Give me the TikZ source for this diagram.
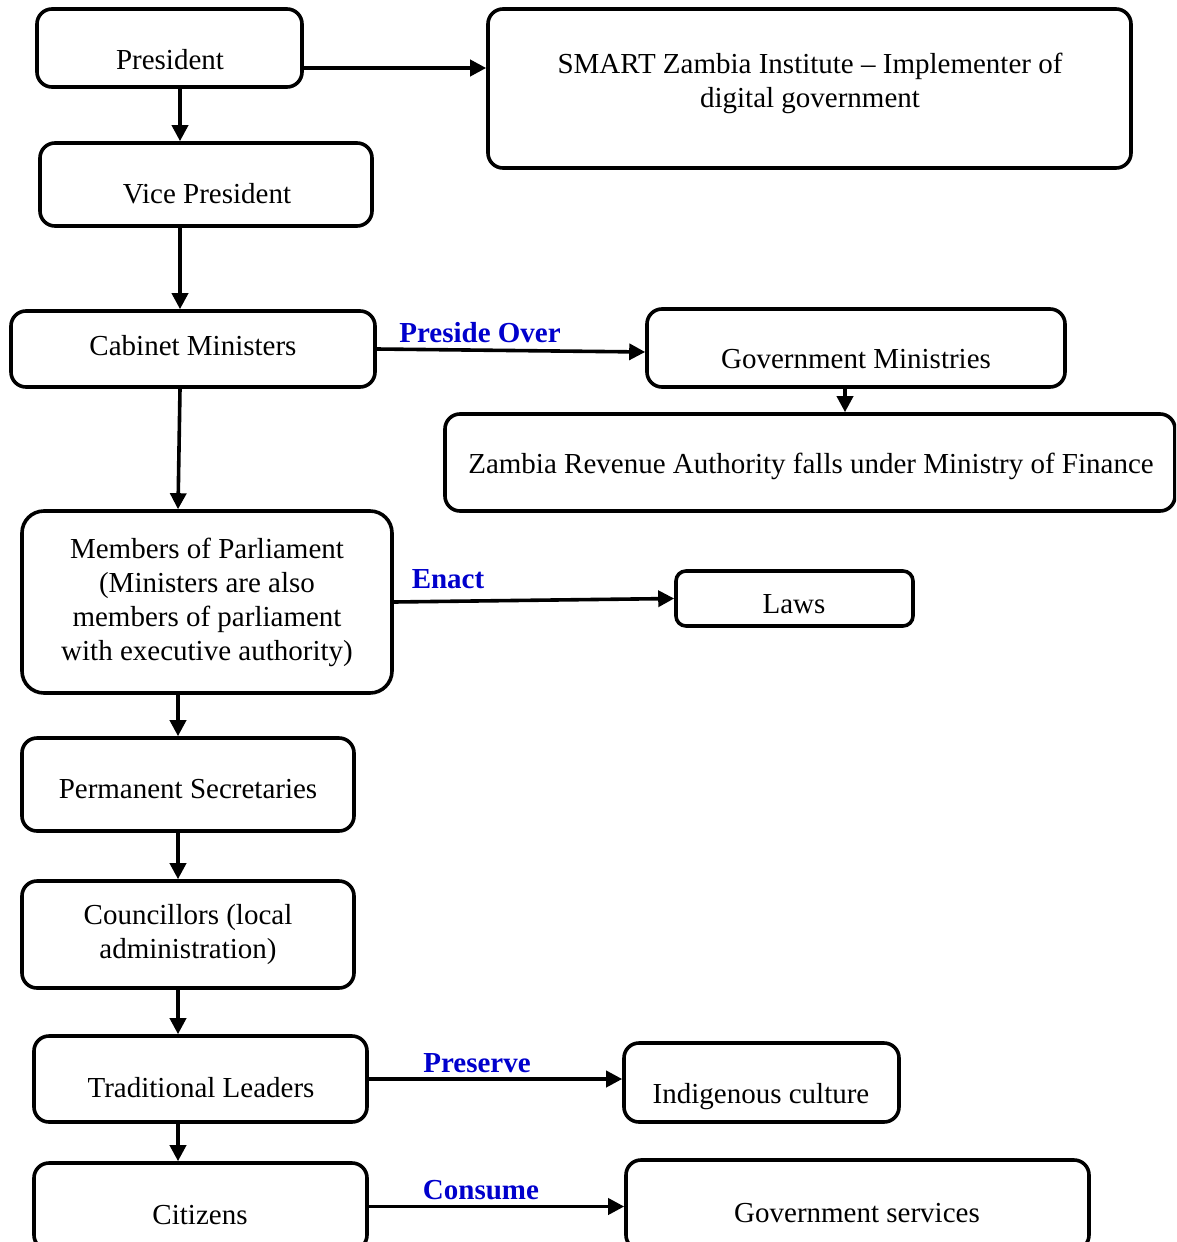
\documentclass[tikz,border=0pt]{standalone}
\usepackage{fontspec}
\setmainfont{Liberation Serif}
\usetikzlibrary{arrows.meta}
\definecolor{lblue}{RGB}{0,0,204}
\begin{document}
\begin{tikzpicture}[x=1pt,y=-1pt,
  box/.style={draw, line width=3.6pt, rounded corners=15pt, inner sep=0pt},
  txt/.style={font=\fontsize{29}{34}\selectfont, align=center, inner sep=0pt},
  lbl/.style={font=\fontsize{29}{34}\selectfont\bfseries, text=lblue, inner sep=0pt},
  arr/.style={line width=3.6pt, -{Triangle[length=16pt,width=16pt]}}]
\useasboundingbox (0,0) rectangle (1176,1242);
\clip (0,0) rectangle (1176,1242);

% columns and rows used by the connectors
\coordinate (colA) at (180,0);
\coordinate (colB) at (178,0);
\coordinate (colC) at (845,0);
\coordinate (rowA) at (0,68);

% boxes
\node[box, minimum width=265, minimum height=78]  (pres)   at (169.5,48)   {};
\node[box, minimum width=643, minimum height=159] (smart)  at (809.5,88.5) {};
\node[box, minimum width=332, minimum height=83]  (vice)   at (206,184.5)  {};
\node[box, minimum width=364, minimum height=76]  (cab)    at (193,349)    {};
\node[box, minimum width=418, minimum height=78]  (govmin) at (856,348)    {};
\node[box, minimum width=730, minimum height=97]  (zra)    at (810,462.5)  {};
\node[box, minimum width=370, minimum height=182, rounded corners=22pt] (mps) at (207,602) {};
\node[box, minimum width=237, minimum height=55, rounded corners=10pt]  (laws) at (794.5,598.5) {};
\node[box, minimum width=332, minimum height=93]  (perm)   at (188,784.5)  {};
\node[box, minimum width=332, minimum height=107] (coun)   at (188,934.5)  {};
\node[box, minimum width=333, minimum height=86]  (trad)   at (200.5,1079) {};
\node[box, minimum width=275, minimum height=79]  (indig)  at (761.5,1082.5) {};
\node[box, minimum width=333, minimum height=87]  (cit)    at (200.5,1206.5) {};
\node[box, minimum width=463, minimum height=90]  (gsv)    at (857.5,1205) {};

% box texts
\node[txt] (tpres)   at (170,59.5)   {President};
\node[txt] (tsmart)  at (810,83.5)   {SMART Zambia Institute \textendash{} Implementer of\\digital government};
\node[txt] (tvice)   at (207,193.5)  {Vice President};
\node[txt] (tcab)    at (193,345.5)  {Cabinet Ministers};
\node[txt] (tgovmin) at (856,359.5)  {Government Ministries};
\node[txt] (tzra)    at (811,466)    {Zambia Revenue Authority falls under Ministry of Finance};
\node[txt] (tmps)    at (207,602)    {Members of Parliament\\(Ministers are also\\members of parliament\\with executive authority)};
\node[txt] (tlaws)   at (794,604.5)  {Laws};
\node[txt] (tperm)   at (188,789.5)  {Permanent Secretaries};
\node[txt] (tcoun)   at (188,935)    {Councillors (local\\administration)};
\node[txt] (ttrad)   at (201,1087.5) {Traditional Leaders};
\node[txt] (tindig)  at (761,1097)   {Indigenous culture};
\node[txt] (tcit)    at (200,1215.5) {Citizens};
\node[txt] (tgsv)    at (857,1213)   {Government services};

% connector labels
\node[lbl] (lpreside)  at (480,333)  {Preside Over};
\node[lbl] (lenact)    at (448,579)  {Enact};
\node[lbl] (lpreserve) at (477,1063) {Preserve};
\node[lbl] (lconsume)  at (481,1190) {Consume};

% connectors
\draw[arr] (pres.south -| colA) -- (vice.north -| colA);
\draw[arr] (pres.east |- rowA) -- (smart.west |- rowA);
\draw[arr] (vice.south -| colA) -- (cab.north -| colA);
\draw[arr] (cab.east) -- ([yshift=-4pt]govmin.west);
\draw[arr] (govmin.south -| colC) -- (zra.north -| colC);
\draw[arr] (cab.south -| colA) -- (mps.north -| colB);
\draw[arr] (mps.east) -- (laws.west);
\draw[arr] (mps.south -| colB) -- (perm.north -| colB);
\draw[arr] (perm.south -| colB) -- (coun.north -| colB);
\draw[arr] (coun.south -| colB) -- (trad.north -| colB);
\draw[arr] (trad.east) -- (indig.west |- trad.east);
\draw[arr] (trad.south -| colB) -- (cit.north -| colB);
\draw[arr] (cit.east) -- (gsv.west |- cit.east);
\end{tikzpicture}
\end{document}
